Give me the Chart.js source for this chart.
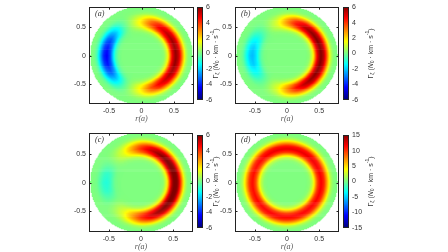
<!DOCTYPE html>
<html>
<head>
<meta charset="utf-8">
<script src="https://cdn.jsdelivr.net/npm/chart.js@4"></script>
<style>
html, body { margin: 0; padding: 0; background: #fff; }
#fig { position: relative; width: 448px; height: 252px; overflow: hidden; }
#fig canvas { position: absolute; }
</style>
</head>
<body>
<div id="fig"></div>
<script>
// axis ticks
var xTicks = [-0.5, 0, 0.5];
var yTicks = [-0.5, 0, 0.5];
var cbTicksSmall = [-6, -4, -2, 0, 2, 4, 6];
var cbTicksBig = [-15, -10, -5, 0, 5, 10, 15];

// ring strength read around the circle, every 15 deg counter-clockwise from +x
var angleDeg = [0, 15, 30, 45, 60, 75, 90, 105, 120, 135, 150, 165, 180, 195, 210, 225, 240, 255, 270, 285, 300, 315, 330, 345];
var ampA = [5.8, 5.8, 5.6, 5.2, 4.6, 3.4, 1.8, 0.6, -0.5, -2.0, -3.4, -4.3, -4.6, -4.3, -3.4, -2.0, -0.5, 0.6, 1.8, 3.4, 4.6, 5.2, 5.6, 5.8];
var ampB = [6.0, 6.0, 6.0, 5.8, 5.3, 4.3, 2.8, 1.2, 0.3, -0.5, -1.4, -2.1, -2.3, -2.1, -1.4, -0.5, 0.3, 1.2, 2.8, 4.3, 5.3, 5.8, 6.0, 6.0];
var ampC = [6.4, 6.4, 6.3, 6.1, 5.7, 5.0, 4.0, 2.6, 1.2, 0.4, -0.3, -0.9, -1.1, -0.9, -0.3, 0.4, 1.2, 2.6, 4.0, 5.0, 5.7, 6.1, 6.3, 6.4];
var ampD = [11.5, 11.5, 11.8, 12.0, 12.0, 12.0, 12.0, 12.0, 11.8, 11.5, 11.2, 11.0, 11.0, 11.0, 11.2, 11.4, 11.5, 11.5, 11.5, 11.5, 11.5, 11.5, 11.5, 11.5];

// radial shape of the ring (fraction of the ring strength) against r(a)
var ringRadius = [0.30, 0.35, 0.40, 0.43, 0.45, 0.48, 0.53, 0.58, 0.62, 0.65, 0.68, 0.72, 0.75];
var ringProfile = [0, 0.03, 0.18, 0.40, 0.58, 0.82, 1.0, 0.88, 0.60, 0.38, 0.15, 0.03, 0];

var panelNames = ['(a)', '(b)', '(c)', '(d)'];

var X_LIM = 0.808, Y_LIM = 0.86, K_Y = 0.903, R_DOM = 0.785;
var TICK_FONT = { family: '"Liberation Sans", Arial, sans-serif', size: 7 };

var panels = [
    { name: panelNames[0], amp: ampA, vmax: 6, cbTicks: cbTicksSmall, box: [89, 194, 3, 104], cb: 197, rowTop: 0, rowBottom: 124, labelX: 216 },
    { name: panelNames[1], amp: ampB, vmax: 6, cbTicks: cbTicksSmall, box: [235, 339, 3, 104], cb: 343, rowTop: 0, rowBottom: 124, labelX: 371 },
    { name: panelNames[2], amp: ampC, vmax: 6, cbTicks: cbTicksSmall, box: [89, 193, 131, 232], cb: 197, rowTop: 126, rowBottom: 252, labelX: 216 },
    { name: panelNames[3], amp: ampD, vmax: 15, cbTicks: cbTicksBig, box: [235, 339, 131, 232], cb: 343, rowTop: 126, rowBottom: 252, labelX: 371 }
];

function jet(t) {
    t = Math.max(0, Math.min(1, t));
    function c(d) { return Math.round(255 * Math.max(0, Math.min(1, 1.5 - Math.abs(4 * t - d)))); }
    return 'rgb(' + c(3) + ',' + c(2) + ',' + c(1) + ')';
}

function angleAmp(amp, deg) {
    var step = angleDeg[1] - angleDeg[0];
    var i = Math.floor(deg / step) % amp.length;
    var f = (deg - angleDeg[i]) / step;
    return amp[i] * (1 - f) + amp[(i + 1) % amp.length] * f;
}

function radialAt(r) {
    if (r <= ringRadius[0] || r >= ringRadius[ringRadius.length - 1]) return 0;
    for (var i = 0; i < ringRadius.length - 1; i++) {
        if (r < ringRadius[i + 1]) {
            var f = (r - ringRadius[i]) / (ringRadius[i + 1] - ringRadius[i]);
            return ringProfile[i] * (1 - f) + ringProfile[i + 1] * f;
        }
    }
    return 0;
}

function addCanvas(l, t, w, h) {
    var c = document.createElement('canvas');
    c.width = w; c.height = h;
    c.style.left = l + 'px'; c.style.top = t + 'px';
    c.style.width = w + 'px'; c.style.height = h + 'px';
    document.getElementById('fig').appendChild(c);
    return c;
}

// colorbar title with sub/superscripts, reading bottom-to-top
function drawCbLabel(ctx, x, y) {
    var parts = [
        { t: 'Γ', size: 7, dy: 0 },
        { t: 'ζ', size: 5, dy: 2 },
        { t: ' (', size: 7, dy: 0 },
        { t: 'N', size: 7, dy: 0, italic: true },
        { t: '0', size: 5, dy: 2 },
        { t: ' · km · s', size: 7, dy: 0 },
        { t: '-1', size: 5, dy: -3 },
        { t: ')', size: 7, dy: 0 }
    ];
    ctx.save();
    ctx.translate(x, y);
    ctx.rotate(-Math.PI / 2);
    ctx.fillStyle = '#333';
    ctx.textBaseline = 'middle';
    ctx.textAlign = 'left';
    var total = 0;
    parts.forEach(function (p) {
        ctx.font = (p.italic ? 'italic ' : '') + p.size + 'px "Liberation Sans", Arial, sans-serif';
        p.w = ctx.measureText(p.t).width;
        total += p.w;
    });
    var px = -total / 2;
    parts.forEach(function (p) {
        ctx.font = (p.italic ? 'italic ' : '') + p.size + 'px "Liberation Sans", Arial, sans-serif';
        ctx.fillText(p.t, px, p.dy);
        px += p.w;
    });
    ctx.restore();
}

function drawHeatmap(p) {
    var left = p.box[0] - 49;
    var width = p.box[1] - left + 3;
    var height = p.rowBottom - p.rowTop;
    var canvas = addCanvas(left, p.rowTop, width, height);

    // one cell per screen pixel of the plot box
    var nx = p.box[1] - p.box[0], ny = p.box[3] - p.box[2];
    var dx = 2 * X_LIM / nx, dy = 2 * Y_LIM / ny;
    var pts = [], cols = [];
    for (var i = 0; i < nx; i++) {
        for (var j = 0; j < ny; j++) {
            var x = -X_LIM + (i + 0.5) * dx, y = -Y_LIM + (j + 0.5) * dy;
            var yy = y * K_Y, rr = Math.sqrt(x * x + yy * yy);
            if (rr > R_DOM) continue;
            var deg = Math.atan2(yy, x) * 180 / Math.PI;
            if (deg < 0) deg += 360;
            var v = angleAmp(p.amp, deg) * radialAt(rr);
            pts.push({ x: x, y: y });
            cols.push(jet((v + p.vmax) / (2 * p.vmax)));
        }
    }

    var frame = {
        id: 'frame',
        afterDatasetsDraw: function (chart) {
            var a = chart.chartArea, ctx = chart.ctx;
            ctx.save();
            ctx.strokeStyle = '#222';
            ctx.lineWidth = 1;
            ctx.strokeRect(Math.round(a.left) + 0.5, Math.round(a.top) + 0.5, Math.round(a.right - a.left) - 1, Math.round(a.bottom - a.top) - 1);
            ctx.beginPath();
            xTicks.forEach(function (v) {
                var px = Math.round(chart.scales.x.getPixelForValue(v)) + 0.5;
                ctx.moveTo(px, a.bottom); ctx.lineTo(px, a.bottom - 2.5);
                ctx.moveTo(px, a.top); ctx.lineTo(px, a.top + 2.5);
            });
            yTicks.forEach(function (v) {
                var py = Math.round(chart.scales.y.getPixelForValue(v)) + 0.5;
                ctx.moveTo(a.left, py); ctx.lineTo(a.left + 2.5, py);
                ctx.moveTo(a.right, py); ctx.lineTo(a.right - 2.5, py);
            });
            ctx.stroke();
            ctx.fillStyle = '#333';
            ctx.font = 'italic 8px "Liberation Serif", serif';
            ctx.textBaseline = 'middle';
            ctx.fillText(p.name, a.left + 6, a.top + 7);
            ctx.restore();
        }
    };

    new Chart(canvas, {
        type: 'scatter',
        data: {
            datasets: [{
                data: pts,
                pointStyle: 'rect',
                pointRadius: 1.0,
                pointHoverRadius: 1.0,
                pointBorderWidth: 0,
                pointBackgroundColor: cols
            }]
        },
        options: {
            responsive: false,
            animation: false,
            devicePixelRatio: 1,
            events: [],
            layout: { padding: { left: 0, right: 3, top: p.box[2] - p.rowTop, bottom: 0 } },
            plugins: { legend: { display: false }, tooltip: { enabled: false } },
            scales: {
                x: {
                    type: 'linear', min: -X_LIM, max: X_LIM,
                    grid: { display: false, drawTicks: false },
                    border: { display: false },
                    ticks: { font: TICK_FONT, color: '#333', padding: 3, callback: function (v) { return String(v); } },
                    afterBuildTicks: function (s) { s.ticks = xTicks.map(function (v) { return { value: v }; }); },
                    afterFit: function (s) { s.height = p.rowBottom - p.box[3]; },
                    title: { display: true, text: 'r(a)', color: '#555', padding: { top: 0, bottom: 0 },
                             font: { family: '"Liberation Serif", serif', size: 8, style: 'italic' } }
                },
                y: {
                    type: 'linear', min: -Y_LIM, max: Y_LIM,
                    grid: { display: false, drawTicks: false },
                    border: { display: false },
                    ticks: { font: TICK_FONT, color: '#333', padding: 3, callback: function (v) { return String(v); } },
                    afterBuildTicks: function (s) { s.ticks = yTicks.map(function (v) { return { value: v }; }); },
                    afterFit: function (s) { s.width = 49; }
                }
            }
        },
        plugins: [frame]
    });
}

function drawColorbar(p) {
    var left = p.cb - 2;
    var top = p.box[2] - 3;
    var height = p.box[3] - p.box[2] + 6;
    var width = p.labelX + 8 - left;
    var canvas = addCanvas(left, top, width, height);

    var n = 96, stepV = 2 * p.vmax / n, sets = [];
    for (var i = 0; i < n; i++) {
        var lo = -p.vmax + i * stepV;
        sets.push({
            data: [[lo, lo + stepV * 1.4]],
            backgroundColor: jet((i + 0.5) / n),
            borderWidth: 0,
            barPercentage: 1,
            categoryPercentage: 1,
            grouped: false
        });
    }

    var cbFrame = {
        id: 'cbframe',
        afterDatasetsDraw: function (chart) {
            var a = chart.chartArea, ctx = chart.ctx;
            ctx.save();
            ctx.strokeStyle = '#222';
            ctx.lineWidth = 1;
            ctx.strokeRect(Math.round(a.left) + 0.5, Math.round(a.top) + 0.5, Math.round(a.right - a.left) - 1, Math.round(a.bottom - a.top) - 1);
            ctx.restore();
            drawCbLabel(ctx, p.labelX - left, (a.top + a.bottom) / 2);
        }
    };

    new Chart(canvas, {
        type: 'bar',
        data: { labels: ['cb'], datasets: sets },
        options: {
            responsive: false,
            animation: false,
            devicePixelRatio: 1,
            events: [],
            layout: { padding: { left: 2, right: 0, top: 3, bottom: 3 } },
            plugins: { legend: { display: false }, tooltip: { enabled: false } },
            scales: {
                x: { display: false },
                y: {
                    position: 'right', min: -p.vmax, max: p.vmax,
                    grid: { display: false, drawTicks: false },
                    border: { display: false },
                    ticks: { font: TICK_FONT, color: '#333', padding: 3 },
                    afterBuildTicks: function (s) { s.ticks = p.cbTicks.map(function (v) { return { value: v }; }); },
                    afterFit: function (s) { s.width = width - 2 - 6; }
                }
            }
        },
        plugins: [cbFrame]
    });
}

panels.forEach(function (p) {
    drawHeatmap(p);
    drawColorbar(p);
});
</script>
</body>
</html>
